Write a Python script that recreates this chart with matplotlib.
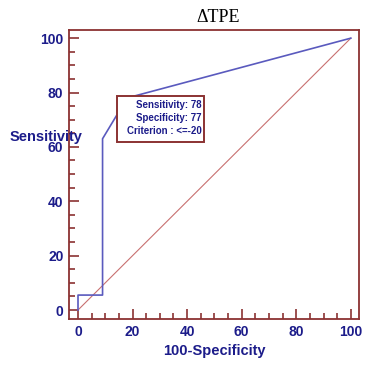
import matplotlib
matplotlib.use("Agg")
import matplotlib.pyplot as plt
from matplotlib.ticker import MultipleLocator
from matplotlib.patches import Rectangle

# data
roc_x = [0, 0, 9, 9, 18, 100]
roc_y = [0, 5.5, 5.5, 63, 78, 100]
diag_x = [0, 100]
diag_y = [0, 100]
ticks = [0, 20, 40, 60, 80, 100]
title = "ΔTPE"
xlabel = "100-Specificity"
ylabel = "Sensitivity"
box_lines = ["Sensitivity: 78", "Specificity: 77", "Criterion : <=-20"]

frame_c = "#8b3232"
label_c = "#1c1c8a"
roc_c = "#5a5abe"
diag_c = "#c87070"

fig = plt.figure(figsize=(3.66, 3.72), dpi=100)
ax = fig.add_axes([69/366, 1-319/372, 290/366, 289/372])
ax.plot(diag_x, diag_y, color=diag_c, lw=0.8)
ax.plot(roc_x, roc_y, color=roc_c, lw=1.2)
ax.set_xlim(-3.3, 103)
ax.set_ylim(-3.3, 103)
ax.set_xticks(ticks)
ax.set_yticks(ticks)
ax.xaxis.set_minor_locator(MultipleLocator(5))
ax.yaxis.set_minor_locator(MultipleLocator(5))
ax.tick_params(which="both", direction="in", color=frame_c, width=1.2,
               top=False, right=False)
ax.tick_params(which="major", length=7, labelsize=10, labelcolor=label_c, pad=4)
ax.tick_params(which="minor", length=4)
for lab in ax.get_xticklabels() + ax.get_yticklabels():
    lab.set_fontweight("bold")
    lab.set_fontfamily("Liberation Sans")
for s in ax.spines.values():
    s.set_color(frame_c)
    s.set_linewidth(1.3)

ax.set_xlabel(xlabel, fontsize=10.5, fontweight="bold", color=label_c,
              family="Liberation Sans", labelpad=4)
fig.text(10/366, 1-137/372, ylabel, fontsize=10.5, fontweight="bold",
         color=label_c, family="Liberation Sans", ha="left", va="center")
fig.text(218/366, 1-17/372, title, fontsize=13, family="Liberation Serif",
         ha="center", va="center", color="black")

# annotation box
bx0, bx1 = (117-69)/290, (204-69)/290
by0, by1 = (319-142)/289, (319-96)/289
ax.add_patch(Rectangle((bx0, by0), bx1-bx0, by1-by0, transform=ax.transAxes,
                       fc="white", ec=frame_c, lw=1.4, zorder=5))
ax.text((202-69)/290, (319-118)/289, "\n".join(box_lines), transform=ax.transAxes,
        ha="right", va="center", fontsize=7, fontweight="bold",
        color=label_c, family="Liberation Sans", linespacing=1.4, zorder=6)

fig.savefig("out.png", dpi=100)
